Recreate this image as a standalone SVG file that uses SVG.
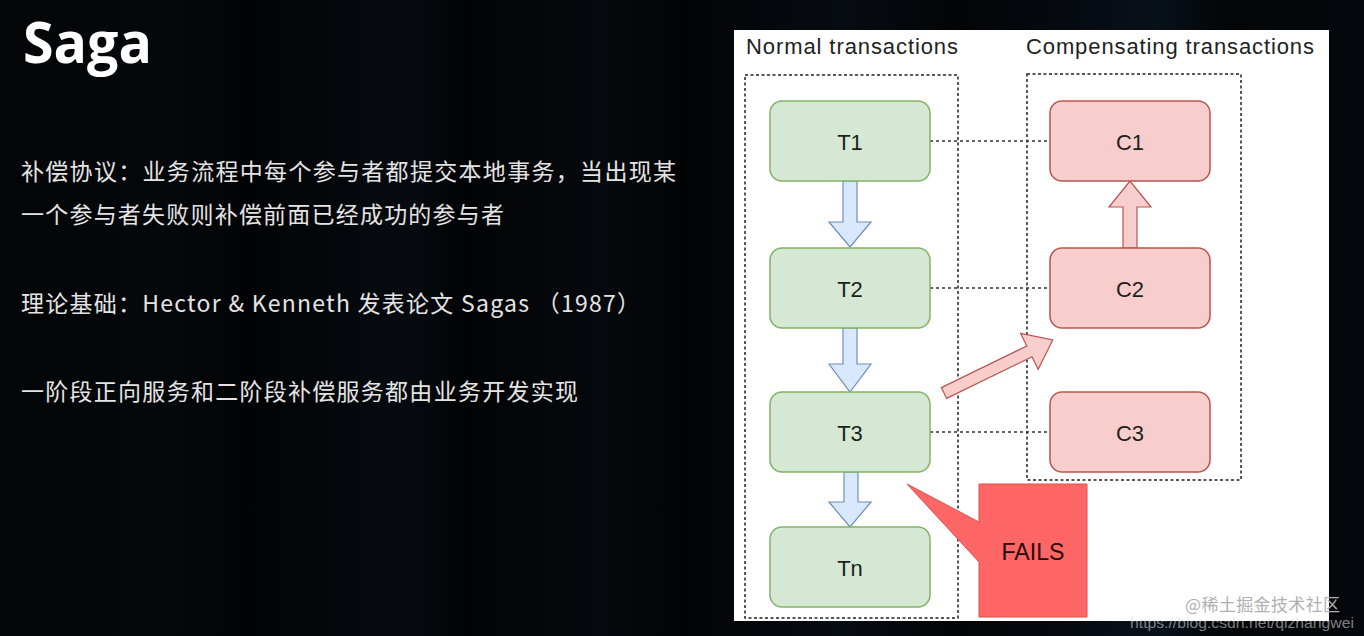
<svg xmlns="http://www.w3.org/2000/svg" width="1364" height="636" viewBox="0 0 1364 636">
  <defs>
    <linearGradient id="bg" x1="0" y1="0" x2="1" y2="0">
      <stop offset="0" stop-color="#030506"/>
      <stop offset="0.12" stop-color="#05080b"/>
      <stop offset="0.18" stop-color="#020304"/>
      <stop offset="0.3" stop-color="#070b10"/>
      <stop offset="0.34" stop-color="#020304"/>
      <stop offset="0.44" stop-color="#06090d"/>
      <stop offset="0.5" stop-color="#020304"/>
      <stop offset="0.62" stop-color="#070c12"/>
      <stop offset="0.7" stop-color="#030405"/>
      <stop offset="0.85" stop-color="#08101a"/>
      <stop offset="0.9" stop-color="#030506"/>
      <stop offset="1" stop-color="#05080c"/>
    </linearGradient>
    <style>
      .cjk { font-family: "Noto Sans CJK SC", "Noto Sans", sans-serif; fill: #e4e4e4; font-size: 23px; }
      .hdr { font-family: "Liberation Sans", Arial, sans-serif; fill: #222; font-size: 22px; }
      .lbl { font-family: "Liberation Sans", Arial, sans-serif; fill: #1e1e1e; font-size: 22px; text-anchor: middle; }
      .green { fill: #d5e8d4; stroke: #82b366; stroke-width: 1.5; }
      .pink { fill: #f8cecc; stroke: #b85450; stroke-width: 1.5; }
      .blue { fill: #dae8fc; stroke: #6c8ebf; stroke-width: 1.2; }
      .pinkarrow { fill: #f8cecc; stroke: #b85450; stroke-width: 1.2; }
      .cont { fill: none; stroke: #222; stroke-width: 1.5; stroke-dasharray: 3 2.5; }
      .dot { fill: none; stroke: #333; stroke-width: 1.5; stroke-dasharray: 3 3; }
    </style>
  </defs>

  <rect x="0" y="0" width="1364" height="636" fill="url(#bg)"/>

  <g id="title">
    <text x="23" y="63" font-family="'Open Sans', 'Noto Sans', sans-serif" font-weight="bold" font-size="58" fill="#ffffff" textLength="129" lengthAdjust="spacingAndGlyphs">Saga</text>
  </g>

  <g id="body-text">
    <text class="cjk" x="21" y="180" textLength="655" lengthAdjust="spacing">补偿协议：业务流程中每个参与者都提交本地事务，当出现某</text>
    <text class="cjk" x="21" y="223" textLength="483" lengthAdjust="spacing">一个参与者失败则补偿前面已经成功的参与者</text>
    <text class="cjk" x="21" y="312" textLength="619" lengthAdjust="spacing">理论基础：Hector &amp; Kenneth 发表论文 Sagas （1987）</text>
    <text class="cjk" x="21" y="400" textLength="557" lengthAdjust="spacing">一阶段正向服务和二阶段补偿服务都由业务开发实现</text>
  </g>

  <g id="panel">
    <rect x="734" y="30" width="595" height="591" fill="#ffffff"/>
    <text class="hdr" x="746" y="54" textLength="212" lengthAdjust="spacing">Normal transactions</text>
    <text class="hdr" x="1026" y="54" textLength="288" lengthAdjust="spacing">Compensating transactions</text>
  </g>

  <g id="normal-container">
    <rect class="cont" x="745" y="75" width="213" height="543"/>
  </g>
  <g id="compensating-container">
    <rect class="cont" x="1027" y="74" width="214" height="406"/>
  </g>

  <g id="connectors">
    <line class="dot" x1="930" y1="141" x2="1050" y2="141"/>
    <line class="dot" x1="930" y1="288" x2="1050" y2="288"/>
    <line class="dot" x1="930" y1="432" x2="1050" y2="432"/>
    <polygon class="blue" points="843,181 857,181 857,222 871,222 850,247 829,222 843,222"/>
    <polygon class="blue" points="843,328 857,328 857,364 871,364 850,392 829,364 843,364"/>
    <polygon class="blue" points="844,472 858,472 858,502 871,502 850,527 829,502 844,502"/>
    <polygon class="pinkarrow" points="1123,248 1137,248 1137,207 1151,207 1130,181 1109,207 1123,207"/>
    <polygon class="pinkarrow" transform="translate(944,393) rotate(-26)" points="0,-6 95,-6 95,-20 121,0 95,20 95,6 0,6"/>
  </g>

  <g id="T1"><rect class="green" x="770" y="101" width="160" height="80" rx="12"/><text class="lbl" x="850" y="150">T1</text></g>
  <g id="T2"><rect class="green" x="770" y="248" width="160" height="80" rx="12"/><text class="lbl" x="850" y="297">T2</text></g>
  <g id="T3"><rect class="green" x="770" y="392" width="160" height="80" rx="12"/><text class="lbl" x="850" y="441">T3</text></g>
  <g id="Tn"><rect class="green" x="770" y="527" width="160" height="80" rx="12"/><text class="lbl" x="850" y="576">Tn</text></g>

  <g id="C1"><rect class="pink" x="1050" y="101" width="160" height="80" rx="12"/><text class="lbl" x="1130" y="150">C1</text></g>
  <g id="C2"><rect class="pink" x="1050" y="248" width="160" height="80" rx="12"/><text class="lbl" x="1130" y="297">C2</text></g>
  <g id="C3"><rect class="pink" x="1050" y="392" width="160" height="80" rx="12"/><text class="lbl" x="1130" y="441">C3</text></g>

  <g id="fails">
    <polygon points="979,484 1087,484 1087,617 979,617 979,562 907,484 979,522" fill="#ff6666" stroke="#d9534f" stroke-width="1"/>
    <text x="1033" y="560" font-family="'Liberation Sans', Arial, sans-serif" font-size="24" fill="#2a0505" text-anchor="middle" textLength="63" lengthAdjust="spacingAndGlyphs">FAILS</text>
  </g>

  <g id="watermark">
    <text x="1185" y="611" font-family="'Noto Sans CJK SC', 'Noto Sans', sans-serif" font-size="17" fill="#b0b0b0" textLength="155" lengthAdjust="spacing">@稀土掘金技术社区</text>
    <text x="1130" y="628" font-family="'Liberation Sans', Arial, sans-serif" font-size="15" fill="#dddddd" opacity="0.55" textLength="224" lengthAdjust="spacingAndGlyphs">https://blog.csdn.net/qizhangwei</text>
  </g>
</svg>
